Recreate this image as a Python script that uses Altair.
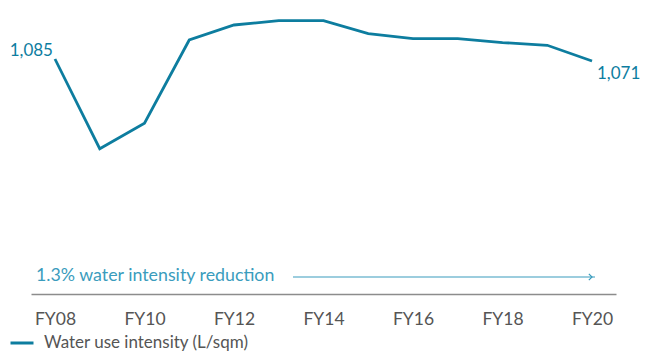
import altair as alt
import pandas as pd

years = ["FY08", "FY09", "FY10", "FY11", "FY12", "FY13", "FY14",
         "FY15", "FY16", "FY17", "FY18", "FY19", "FY20"]
intensity = [1085, 457, 635, 1218, 1323, 1353, 1353, 1262, 1227, 1227, 1200, 1181, 1071]
series_name = "Water use intensity (L/sqm)"
tick_years = ["FY08", "FY10", "FY12", "FY14", "FY16", "FY18", "FY20"]
annotation = "1.3% water intensity reduction"

LINE = "#0d7d9f"
ANNO = "#3a9cbd"
GREY = "#555555"
FONT = "Lato"

df = pd.DataFrame({"year": years, "value": intensity, "series": series_name})
df["pos"] = ["first" if i == 0 else ("last" if i == len(years) - 1 else "mid")
             for i in range(len(years))]

W, H = 585, 150

x = alt.X("year:O", sort=years,
          scale=alt.Scale(type="point", padding=0.536),
          axis=alt.Axis(values=tick_years, title=None, ticks=False, tickSize=0,
                        labelAngle=0, labelFontSize=17.5, labelColor=GREY,
                        labelFont=FONT, labelPadding=16, labelBaseline="top",
                        domainColor="#8c8c8c", domainWidth=1.6, offset=136,
                        grid=False))
y = alt.Y("value:Q", scale=alt.Scale(domain=[392, 1442], zero=False, nice=False),
          axis=None)

base = alt.Chart(df)

line = base.mark_line(strokeWidth=2.8, strokeJoin="miter").encode(
    x=x, y=y,
    color=alt.Color("series:N", scale=alt.Scale(range=[LINE]),
                    legend=alt.Legend(orient="none", legendX=-22, legendY=322,
                                      title=None, symbolType="stroke",
                                      symbolStrokeWidth=3, symbolSize=529,
                                      symbolStrokeColor=LINE,
                                      labelFontSize=17, labelColor=GREY,
                                      labelFont=FONT, labelOffset=9,
                                      labelLimit=0, padding=0)))

first_lbl = base.transform_filter(alt.datum.pos == "first").mark_text(
    align="right", baseline="alphabetic", dx=-2, dy=-3, fontSize=17,
    font=FONT, color=LINE).encode(x=x, y=y, text=alt.Text("value:Q", format=","))

last_lbl = base.transform_filter(alt.datum.pos == "last").mark_text(
    align="left", baseline="alphabetic", dx=5, dy=18, fontSize=17,
    font=FONT, color=LINE).encode(x=x, y=y, text=alt.Text("value:Q", format=","))

anno_df = pd.DataFrame({"label": [annotation]})
anno_text = alt.Chart(anno_df).mark_text(
    align="left", baseline="middle", fontSize=17.8, font=FONT, color=ANNO
).encode(x=alt.value(5), y=alt.value(268), text="label:N")

arrow = alt.Chart(anno_df).mark_rule(color=ANNO, strokeWidth=1.2).encode(
    x=alt.value(262), x2=alt.value(564), y=alt.value(269))

arrow_head = alt.Chart(anno_df).mark_point(
    shape="M -1 -1 L 0 0 L -1 1", filled=False, color=ANNO, strokeWidth=1.2,
    size=40, opacity=1
).encode(x=alt.value(561), y=alt.value(269))

chart = alt.layer(line, first_lbl, last_lbl, anno_text, arrow, arrow_head).properties(
    width=W, height=H,
    autosize=alt.AutoSizeParams(type="none"),
    padding={"left": 23, "top": 0, "right": 24, "bottom": 194},
).configure(background="white").configure_view(stroke=None)

chart.save("out.html", embed_options={"renderer": "svg", "actions": False})
